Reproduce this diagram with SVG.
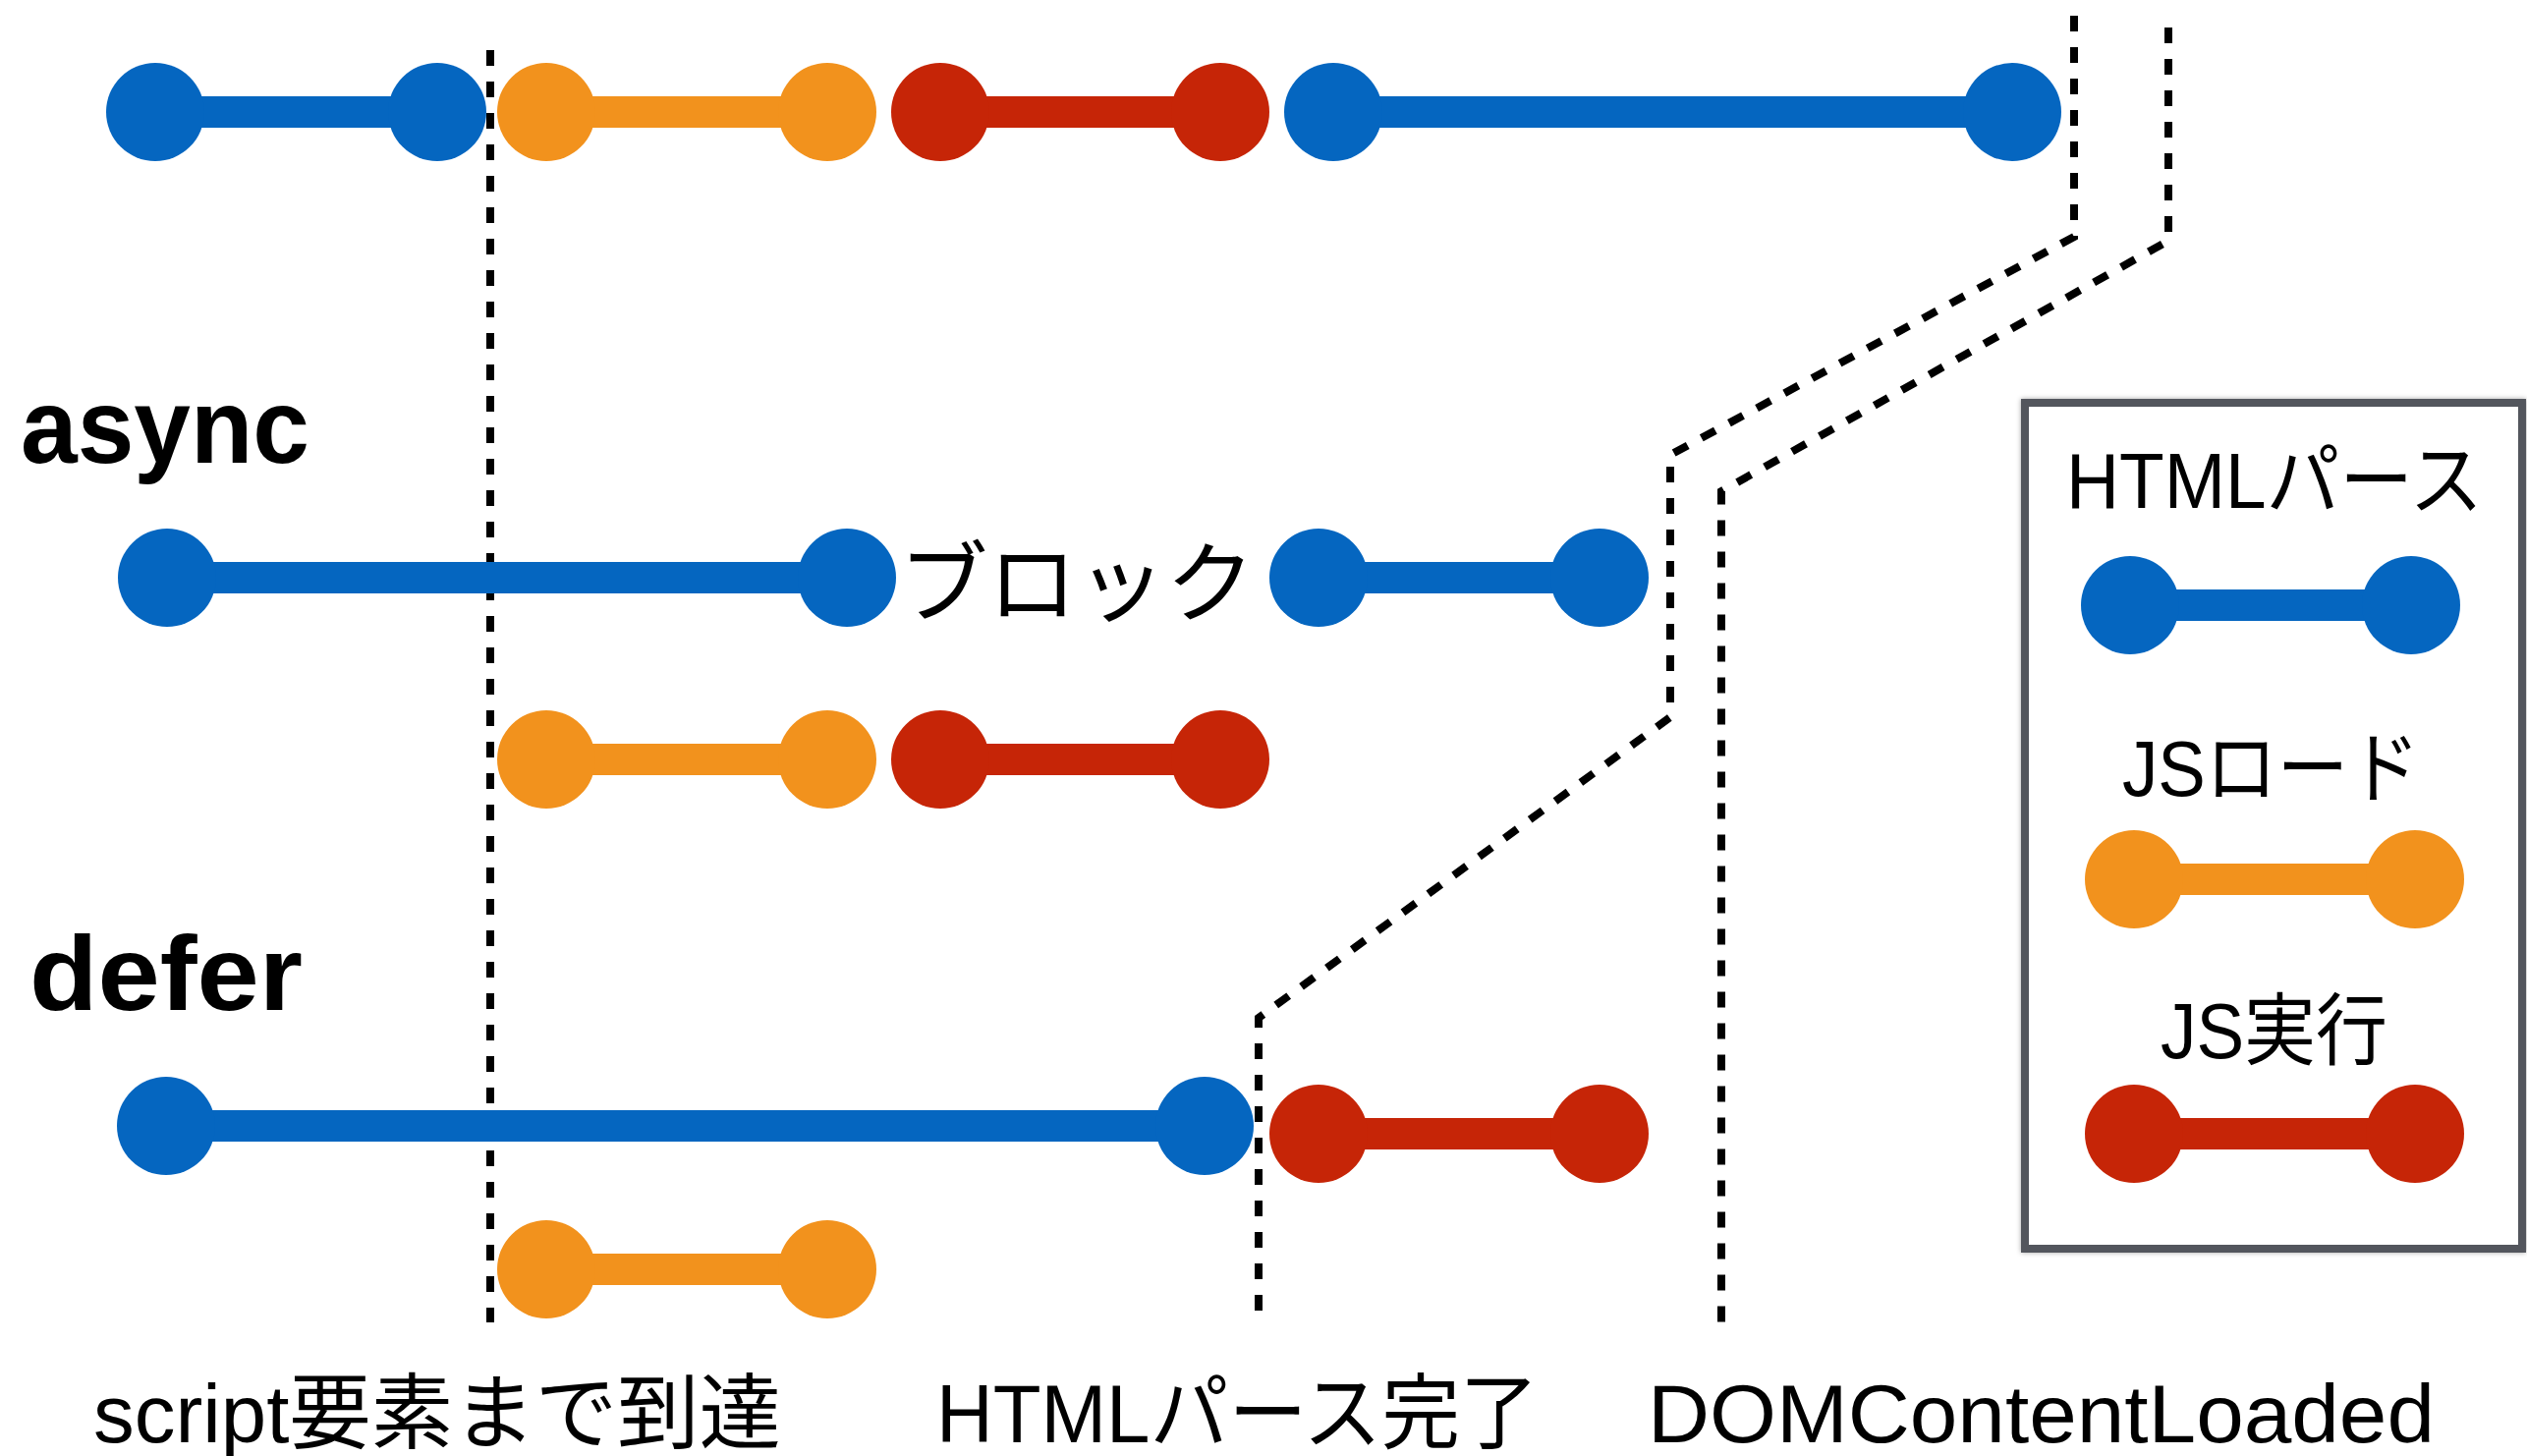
<svg xmlns="http://www.w3.org/2000/svg" width="2572" height="1482" viewBox="0 0 2572 1482">
  <style>
    .bar { stroke-width: 32; }
    .html circle { fill: #0566C0; }
    .html line { stroke: #0566C0; }
    .load circle { fill: #F2921D; }
    .load line { stroke: #F2921D; }
    .exec circle { fill: #C62507; }
    .exec line { stroke: #C62507; }
    .guide { fill: none; stroke: #000; stroke-width: 8; stroke-dasharray: 16 16; }
    .label { font-family: "Liberation Sans", "Noto Sans CJK JP", sans-serif; fill: #000; }
    .title { font-family: "Liberation Sans", sans-serif; font-weight: bold; fill: #000; }
  </style>
  <defs>
    <filter id="shadow" x="-5%" y="-5%" width="110%" height="110%">
      <feDropShadow dx="0" dy="0" stdDeviation="2.5" flood-color="#000" flood-opacity="0.35"/>
    </filter>
  </defs>

  <rect width="2572" height="1482" fill="#fff"/>

  <!-- timing guides -->
  <g id="connectors">
    <path class="guide" d="M499,51 V1346"/>
    <path class="guide" d="M2111,16 V241 L1700,463 V730 L1281,1036 V1337"/>
    <path class="guide" d="M2207,28 V245 L1752,500 V1347"/>
  </g>

  <!-- normal script -->
  <g id="normal-parse-1" class="html">
    <line class="bar" x1="158" y1="114" x2="445" y2="114"/>
    <circle cx="158" cy="114" r="50"/><circle cx="445" cy="114" r="50"/>
  </g>
  <g id="normal-load" class="load">
    <line class="bar" x1="556" y1="114" x2="842" y2="114"/>
    <circle cx="556" cy="114" r="50"/><circle cx="842" cy="114" r="50"/>
  </g>
  <g id="normal-exec" class="exec">
    <line class="bar" x1="957" y1="114" x2="1242" y2="114"/>
    <circle cx="957" cy="114" r="50"/><circle cx="1242" cy="114" r="50"/>
  </g>
  <g id="normal-parse-2" class="html">
    <line class="bar" x1="1357" y1="114" x2="2048" y2="114"/>
    <circle cx="1357" cy="114" r="50"/><circle cx="2048" cy="114" r="50"/>
  </g>

  <!-- async -->
  <text id="async-title" class="title" x="21" y="471" font-size="108" textLength="294" lengthAdjust="spacingAndGlyphs">async</text>
  <g id="async-parse-1" class="html">
    <line class="bar" x1="170" y1="588" x2="862" y2="588"/>
    <circle cx="170" cy="588" r="50"/><circle cx="862" cy="588" r="50"/>
  </g>
  <text id="async-block" class="label" x="915" y="626" font-size="90" textLength="362" lengthAdjust="spacingAndGlyphs">ブロック</text>
  <g id="async-parse-2" class="html">
    <line class="bar" x1="1342" y1="588" x2="1628" y2="588"/>
    <circle cx="1342" cy="588" r="50"/><circle cx="1628" cy="588" r="50"/>
  </g>
  <g id="async-load" class="load">
    <line class="bar" x1="556" y1="773" x2="842" y2="773"/>
    <circle cx="556" cy="773" r="50"/><circle cx="842" cy="773" r="50"/>
  </g>
  <g id="async-exec" class="exec">
    <line class="bar" x1="957" y1="773" x2="1242" y2="773"/>
    <circle cx="957" cy="773" r="50"/><circle cx="1242" cy="773" r="50"/>
  </g>

  <!-- defer -->
  <text id="defer-title" class="title" x="30" y="1028" font-size="108" textLength="278" lengthAdjust="spacingAndGlyphs">defer</text>
  <g id="defer-parse" class="html">
    <line class="bar" x1="169" y1="1146" x2="1226" y2="1146"/>
    <circle cx="169" cy="1146" r="50"/><circle cx="1226" cy="1146" r="50"/>
  </g>
  <g id="defer-exec" class="exec">
    <line class="bar" x1="1342" y1="1154" x2="1628" y2="1154"/>
    <circle cx="1342" cy="1154" r="50"/><circle cx="1628" cy="1154" r="50"/>
  </g>
  <g id="defer-load" class="load">
    <line class="bar" x1="556" y1="1292" x2="842" y2="1292"/>
    <circle cx="556" cy="1292" r="50"/><circle cx="842" cy="1292" r="50"/>
  </g>

  <!-- milestone labels -->
  <text id="label-script" class="label" x="95" y="1468" font-size="84" textLength="700" lengthAdjust="spacingAndGlyphs">script要素まで到達</text>
  <text id="label-parsed" class="label" x="953" y="1468" font-size="84" textLength="613" lengthAdjust="spacingAndGlyphs">HTMLパース完了</text>
  <text id="label-dcl" class="label" x="1677" y="1468" font-size="84" textLength="801" lengthAdjust="spacingAndGlyphs">DOMContentLoaded</text>

  <!-- legend -->
  <g id="legend">
    <rect x="2061" y="410" width="506" height="861" fill="#fff" stroke="#52575D" stroke-width="8" filter="url(#shadow)"/>
    <text class="label" x="2103" y="517" font-size="80" textLength="424" lengthAdjust="spacingAndGlyphs">HTMLパース</text>
    <g class="html">
      <line class="bar" x1="2168" y1="616" x2="2454" y2="616"/>
      <circle cx="2168" cy="616" r="50"/><circle cx="2454" cy="616" r="50"/>
    </g>
    <text class="label" x="2160" y="810" font-size="80" textLength="303" lengthAdjust="spacingAndGlyphs">JSロード</text>
    <g class="load">
      <line class="bar" x1="2172" y1="895" x2="2458" y2="895"/>
      <circle cx="2172" cy="895" r="50"/><circle cx="2458" cy="895" r="50"/>
    </g>
    <text class="label" x="2199" y="1077" font-size="80" textLength="231" lengthAdjust="spacingAndGlyphs">JS実行</text>
    <g class="exec">
      <line class="bar" x1="2172" y1="1154" x2="2458" y2="1154"/>
      <circle cx="2172" cy="1154" r="50"/><circle cx="2458" cy="1154" r="50"/>
    </g>
  </g>
</svg>
